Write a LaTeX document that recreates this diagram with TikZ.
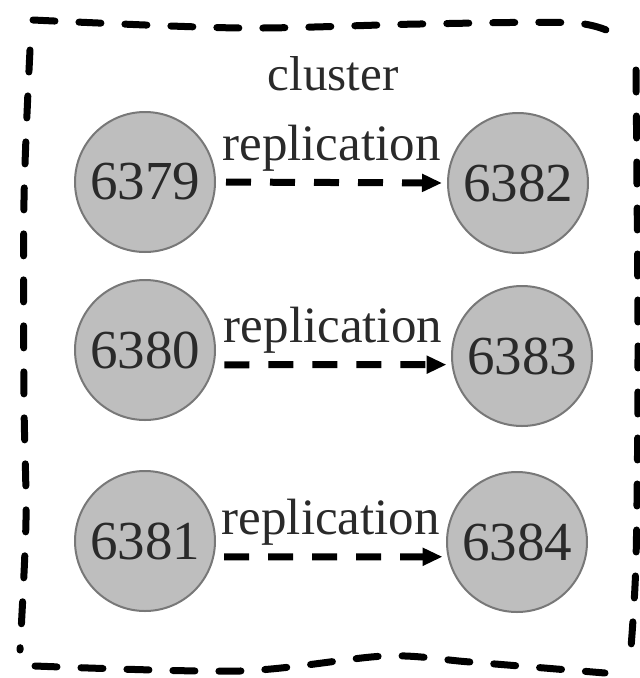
\documentclass[tikz,border=0pt]{standalone}
\usepackage{fontspec}
\setmainfont{Liberation Serif}
\usetikzlibrary{arrows.meta}
\definecolor{nodefill}{HTML}{BEBEBE}
\definecolor{nodeline}{HTML}{787878}
\definecolor{inktext}{HTML}{2A2A2A}
\tikzset{
  redis/.style={circle, draw=nodeline, fill=nodefill, line width=2pt,
                minimum size=140pt, inner sep=0pt, text=inktext,
                font=\fontsize{55}{60}\selectfont},
  repl/.style={-{Triangle[length=20pt,width=17pt]}, line width=7pt,
               dash pattern=on 25pt off 19pt, shorten <=10pt, shorten >=5pt},
  lbl/.style={font=\fontsize{51}{56}\selectfont, text=inktext,
              anchor=base, yshift=22pt},
  border/.style={line width=7pt, line cap=round, dash pattern=on 22pt off 24pt},
}
\begin{document}
\begin{tikzpicture}[x=1pt, y=-1pt]
  \useasboundingbox (0,0) rectangle (640,678);
  % cluster outline
  \draw[border] plot[smooth] coordinates {(33,20) (240,28) (420,24) (575,23) (620,37)};
  \draw[border] plot[smooth] coordinates {(636,70) (638,350) (636,560) (630,660)};
  \draw[border] plot[smooth] coordinates {(35,666) (240,671) (385,656) (470,662) (605,673)};
  \draw[border] plot[smooth] coordinates {(30,50) (24,200) (24,400) (26,520) (20,650)};
  \node[font=\fontsize{49}{54}\selectfont, text=inktext, anchor=base] (title)
        at (333,90) {cluster};
  % masters
  \node[redis] (n6379) at (145,182) {6379};
  \node[redis] (n6380) at (145,350) {6380};
  \node[redis] (n6381) at (145,541) {6381};
  % replicas
  \node[redis] (n6382) at (518,183) {6382};
  \node[redis] (n6383) at (522,356) {6383};
  \node[redis] (n6384) at (517,542) {6384};
  \draw[repl] (n6379.0) -- (n6382.180) node[lbl, midway] {replication};
  \draw[repl] (n6380.-12) -- (n6383.187) node[lbl, midway] {replication};
  \draw[repl] (n6381.-13) -- (n6384.192) node[lbl, midway] {replication};
\end{tikzpicture}
\end{document}
